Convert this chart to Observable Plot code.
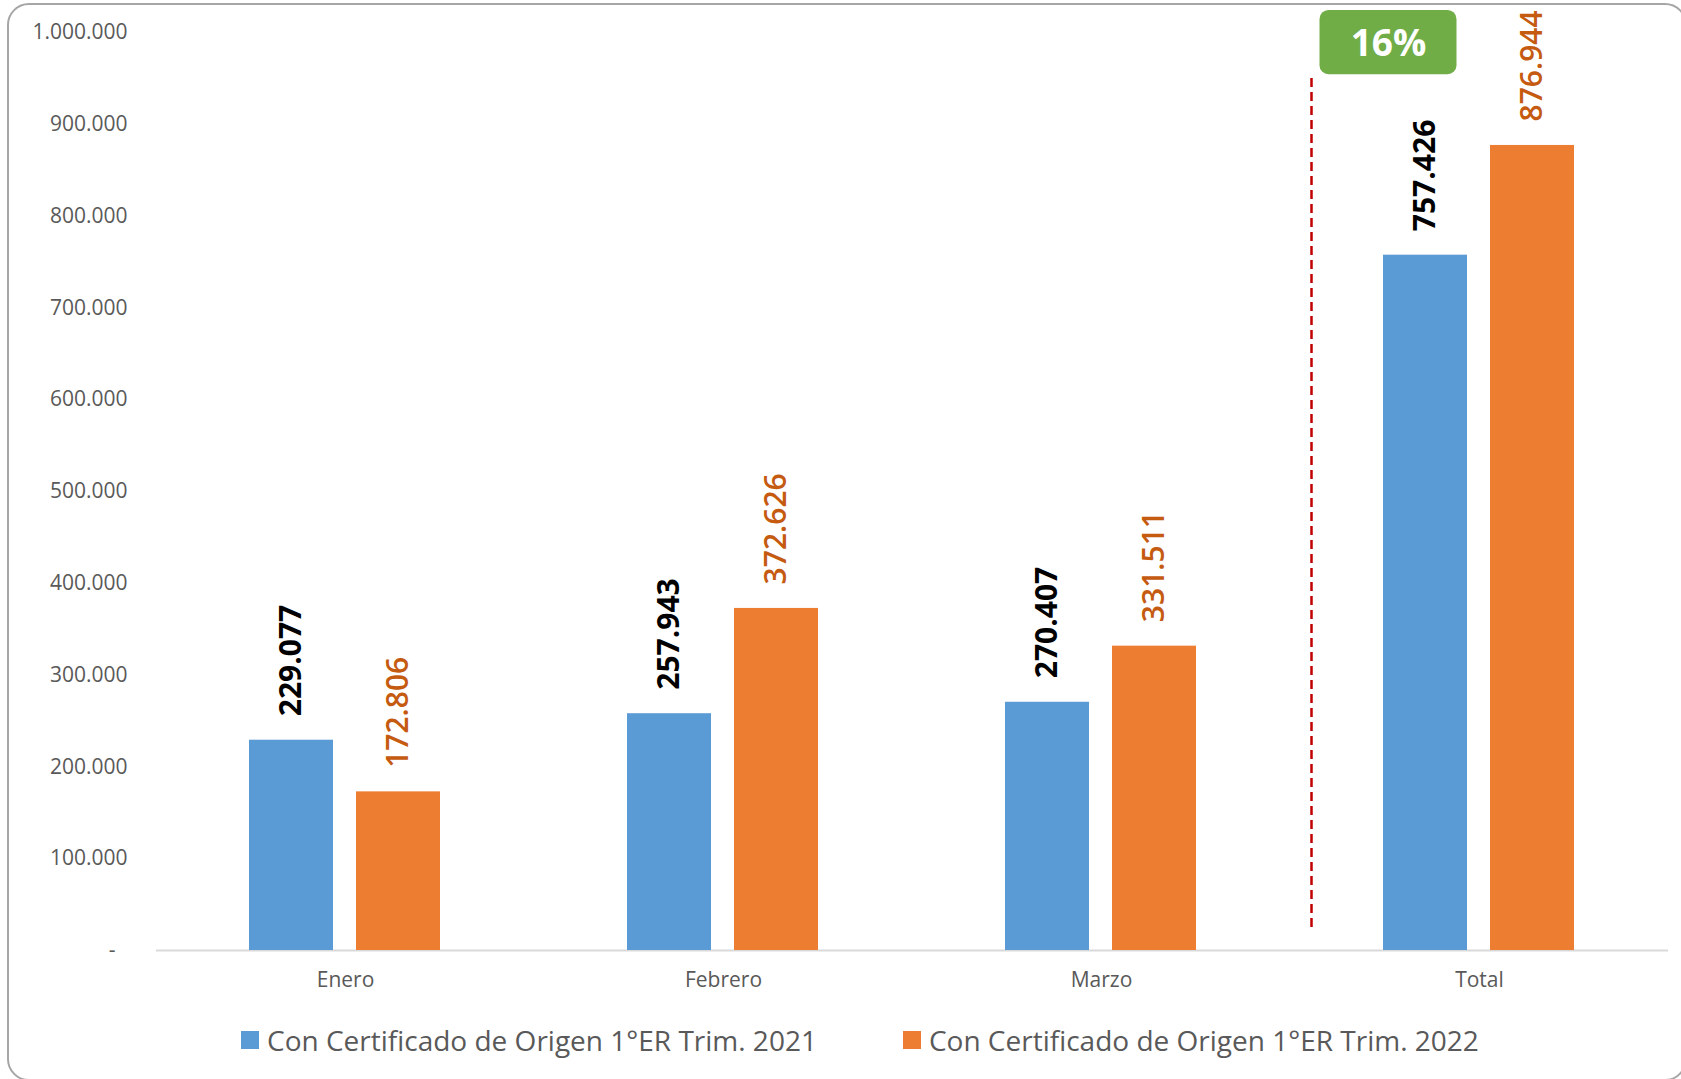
<!DOCTYPE html>
<html>
<head>
<meta charset="utf-8">
<script src="https://cdn.jsdelivr.net/npm/d3@7"></script>
<script src="https://cdn.jsdelivr.net/npm/@observablehq/plot@0.6"></script>
<style>
  html, body { margin: 0; padding: 0; background: #fff; overflow: hidden; }
  #wrap { position: relative; width: 1681px; height: 1079px; font-family: "Open Sans", sans-serif; }
  #border { position: absolute; left: 7px; top: 3px; width: 1680px; height: 1078px; border: 2px solid #A6A6A6; border-radius: 22px; pointer-events: none; box-sizing: border-box; }
  #legend { display: flex; align-items: center; height: 70px; padding-left: 241px; color: #595959; font-size: 28px; }
  .item { display: flex; align-items: center; }
  .sw { width: 18px; height: 18px; margin-right: 8px; }
</style>
</head>
<body>
<div id="wrap">
  <div id="chart"></div>
  <div id="legend"></div>
  <div id="border"></div>
</div>
<script>
const months = ["Enero", "Febrero", "Marzo", "Total"];
const series = ["Con Certificado de Origen 1°ER Trim. 2021", "Con Certificado de Origen 1°ER Trim. 2022"];
const values2021 = [229077, 257943, 270407, 757426];
const values2022 = [172806, 372626, 331511, 876944];
const colors = ["#5B9BD5", "#ED7D31"];
const yTicks = [0, 100000, 200000, 300000, 400000, 500000, 600000, 700000, 800000, 900000, 1000000];
const separatorSpan = [25000, 951000];
const badgeSpan = [954000, 1024000];

const locale = d3.formatLocale({decimal: ",", thousands: ".", grouping: [3], currency: ["", ""]});
const fmt = locale.format(",");

const data = months.flatMap((m, i) => [
  {month: m, serie: series[0], value: values2021[i]},
  {month: m, serie: series[1], value: values2022[i]}
]);
const d2021 = data.filter(d => d.serie === series[0]);
const d2022 = data.filter(d => d.serie === series[1]);

const pct = Math.round((values2022[3] / values2021[3] - 1) * 100) + "%";
const badge = [{month: "Total", serie: series[0], y1: badgeSpan[0], y2: badgeSpan[1], y: (badgeSpan[0] + badgeSpan[1]) / 2, label: pct}];
const sep = [{month: "Total", serie: series[0], y1: separatorSpan[0], y2: separatorSpan[1]}];

const chart = Plot.plot({
  width: 1681,
  height: 1005,
  marginTop: 32,
  marginBottom: 55,
  marginLeft: 155,
  marginRight: 12,
  style: {fontFamily: "'Open Sans', sans-serif", fontSize: "21px", color: "#595959", background: "transparent"},
  fx: {domain: months, padding: 0, label: null, tickSize: 0, tickPadding: 22, axis: "bottom"},
  x: {domain: series, paddingInner: 0.213, paddingOuter: 0.861, axis: null},
  y: {domain: [0, 1000000], ticks: yTicks, tickFormat: d => d === 0 ? "-\u2007" : fmt(d), tickSize: 0, tickPadding: 29, label: null},
  color: {domain: series, range: colors},
  marks: [
    Plot.ruleY([0], {stroke: "#D9D9D9", strokeWidth: 2}),
    Plot.barY(data, {fx: "month", x: "serie", y: "value", fill: "serie"}),
    Plot.text(d2021, {fx: "month", x: "serie", y: "value", text: d => fmt(d.value), rotate: -90, textAnchor: "start", dy: -24, fontSize: 30, fontWeight: "bold", fill: "#000"}),
    Plot.text(d2022, {fx: "month", x: "serie", y: "value", text: d => fmt(d.value), rotate: -90, textAnchor: "start", dy: -24, fontSize: 30, fontWeight: 600, fill: "#C55A11"}),
    Plot.ruleX(sep, {fx: "month", x: "serie", y1: "y1", y2: "y2", dx: -114, stroke: "#C00000", strokeWidth: 2.5, strokeDasharray: "9,5"}),
    Plot.barY(badge, {fx: "month", x: "serie", y1: "y1", y2: "y2", fill: "#70AD47", rx: 9, insetLeft: -63.5, insetRight: 10.5}),
    Plot.text(badge, {fx: "month", x: "serie", y: "y", text: "label", dx: -37, dy: 2, fontSize: 37, fontWeight: "bold", fill: "#fff"})
  ]
});
document.getElementById("chart").appendChild(chart);

const legend = document.getElementById("legend");
series.forEach((s, i) => {
  const item = document.createElement("div");
  item.className = "item";
  if (i > 0) item.style.marginLeft = "86px";
  const sw = document.createElement("span");
  sw.className = "sw";
  sw.style.background = colors[i];
  const t = document.createElement("span");
  t.textContent = s;
  item.appendChild(sw);
  item.appendChild(t);
  legend.appendChild(item);
});
</script>
</body>
</html>
